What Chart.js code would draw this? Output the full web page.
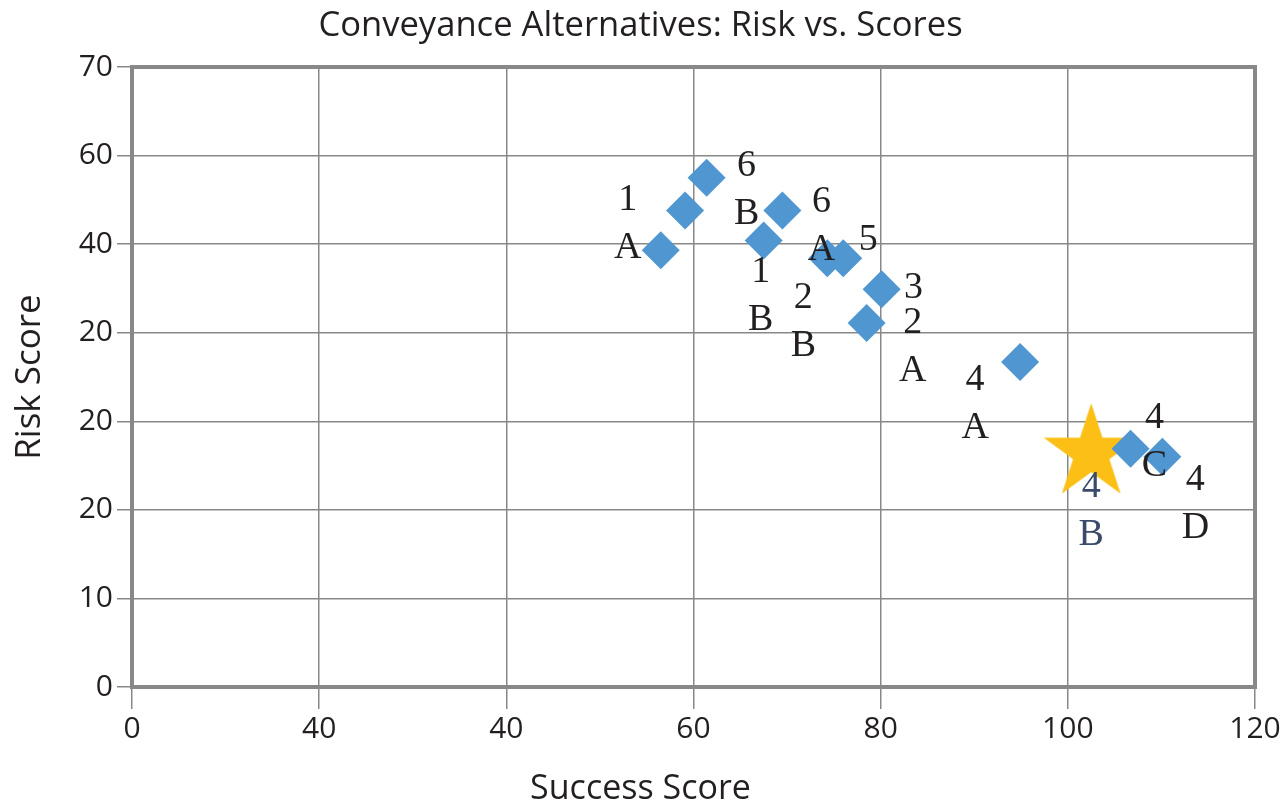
<!DOCTYPE html>
<html lang="en">
<head>
  <meta charset="UTF-8">
  <title>Conveyance Alternatives: Risk vs. Scores</title>
  <script src="https://cdn.jsdelivr.net/npm/chart.js"></script>
  <style>
    html, body { margin: 0; padding: 0; background: #fff; }
    #wrap { width: 1281px; height: 805px; }
  </style>
</head>
<body>
  <div id="wrap"><canvas id="chart"></canvas></div>

  <script>
    // Alternatives (diamonds)
    const successScores = [56.5, 59.1, 61.4, 67.5, 69.5, 74.3, 76.0, 80.1, 78.5, 94.9, 106.7, 110.1];
    const riskScores    = [49.3, 53.8, 57.5, 50.4, 53.8, 48.4, 48.4, 44.9, 41.1, 36.7, 26.9, 26.0];
    const pointLabels   = ['1\nA', '', '6\nB', '1\nB', '6\nA', '2\nB', '5', '3', '2\nA', '4\nA', '4\nC', '4\nD'];

    // Selected alternative (star)
    const selectedSuccess = [102.5];
    const selectedRisk    = [26.4];
    const selectedLabels  = ['4\nB'];

    // Tick labels as printed on the original chart
    const xTickLabels = ['0', '40', '40', '60', '80', '100', '120'];
    const yTickLabels = ['0', '10', '20', '20', '20', '40', '60', '70'];
    const xAxisTitle = 'Success Score';

    // label placement (px offset of first line from its point)
    const labelOffsets = [[-33, -50], null, [40, -12], [-3, 31], [39, -8], [-24, 40], [25, -18],
                          [32, -1], [46, 0], [-45, 18], [24, -31], [33, 23]];
    const starLabelOffset = [0, 34];

    const GRID = '#888888';
    const INK = '#231f20';
    const SANS = '"Open Sans", "Noto Sans", sans-serif';

    // filled five point star used as the point style
    function makeStar(r, color) {
      const c = document.createElement('canvas');
      c.width = c.height = Math.ceil(r * 2);
      const g = c.getContext('2d');
      g.fillStyle = color;
      g.beginPath();
      for (let i = 0; i < 10; i++) {
        const rad = i % 2 === 0 ? r : r * 0.382;
        const a = -Math.PI / 2 + i * Math.PI / 5;
        const px = r + rad * Math.cos(a), py = r + rad * Math.sin(a);
        if (i === 0) g.moveTo(px, py); else g.lineTo(px, py);
      }
      g.closePath();
      g.fill();
      return c;
    }

    // plot frame + x axis title (centred on the page like the original)
    const framePlugin = {
      id: 'frame',
      beforeDatasetsDraw(chart) {
        const { ctx, chartArea: a } = chart;
        ctx.save();
        ctx.strokeStyle = GRID;
        ctx.lineWidth = 4;
        ctx.strokeRect(a.left, a.top, a.right - a.left, a.bottom - a.top);
        ctx.fillStyle = INK;
        ctx.font = '34px ' + SANS;
        ctx.textAlign = 'center';
        ctx.textBaseline = 'middle';
        ctx.fillText(xAxisTitle, chart.width / 2, chart.height - 16);
        ctx.restore();
      }
    };

    const labelPlugin = {
      id: 'pointText',
      afterDatasetsDraw(chart) {
        const ctx = chart.ctx;
        ctx.save();
        ctx.font = '38px "Liberation Serif", "DejaVu Serif", serif';
        ctx.textAlign = 'center';
        ctx.textBaseline = 'middle';
        const drawLabel = (el, text, off, color) => {
          if (!text || !off) return;
          ctx.fillStyle = color;
          text.split('\n').forEach((line, k) => {
            ctx.fillText(line, el.x + off[0], el.y + off[1] + k * 48);
          });
        };
        chart.getDatasetMeta(0).data.forEach((el, i) => {
          drawLabel(el, pointLabels[i], labelOffsets[i], INK);
        });
        chart.getDatasetMeta(1).data.forEach((el, i) => {
          drawLabel(el, selectedLabels[i], starLabelOffset, '#3b4a6b');
        });
        ctx.restore();
      }
    };

    new Chart(document.getElementById('chart'), {
      type: 'scatter',
      data: {
        datasets: [
          {
            label: 'Alternatives',
            data: successScores.map((x, i) => ({ x: x, y: riskScores[i] })),
            pointStyle: 'rectRot',
            pointRadius: 19,
            pointHoverRadius: 19,
            backgroundColor: '#5096d0',
            borderWidth: 0
          },
          {
            label: 'Selected',
            data: selectedSuccess.map((x, i) => ({ x: x, y: selectedRisk[i] })),
            pointStyle: makeStar(50, '#fbbf16'),
            pointRadius: 50,
            borderWidth: 0
          }
        ]
      },
      options: {
        responsive: true,
        maintainAspectRatio: false,
        animation: false,
        layout: { autoPadding: false, padding: { left: 0, right: 0, top: 0, bottom: 0 } },
        plugins: {
          legend: { display: false },
          tooltip: { enabled: false },
          title: {
            display: true,
            text: 'Conveyance Alternatives: Risk vs. Scores',
            color: INK,
            font: { family: SANS, size: 34.6, weight: 'normal', lineHeight: 1.2 },
            padding: { top: 5, bottom: 20.5 }
          }
        },
        scales: {
          x: {
            type: 'linear',
            min: 0,
            max: 120,
            afterFit(scale) {
              scale.height = 118;
              scale.paddingLeft = 0;
              scale.paddingRight = 26;
            },
            ticks: {
              stepSize: 20,
              color: INK,
              font: { family: SANS, size: 30 },
              padding: 2,
              maxRotation: 0,
              callback: (v, i) => xTickLabels[i]
            },
            grid: { color: GRID, lineWidth: 1.5, tickLength: 22, tickColor: GRID },
            border: { display: false }
          },
          y: {
            type: 'linear',
            min: 0,
            max: 70,
            afterFit(scale) { scale.width = 132; },
            ticks: {
              stepSize: 10,
              color: INK,
              font: { family: SANS, size: 30 },
              padding: 4,
              callback: (v, i) => yTickLabels[i]
            },
            grid: { color: GRID, lineWidth: 1.5, tickLength: 15, tickColor: GRID },
            border: { display: false },
            title: {
              display: true,
              text: 'Risk Score',
              color: INK,
              font: { family: SANS, size: 35, lineHeight: 1.2 },
              padding: { top: 9, bottom: 0 }
            }
          }
        }
      },
      plugins: [framePlugin, labelPlugin]
    });
  </script>
</body>
</html>
